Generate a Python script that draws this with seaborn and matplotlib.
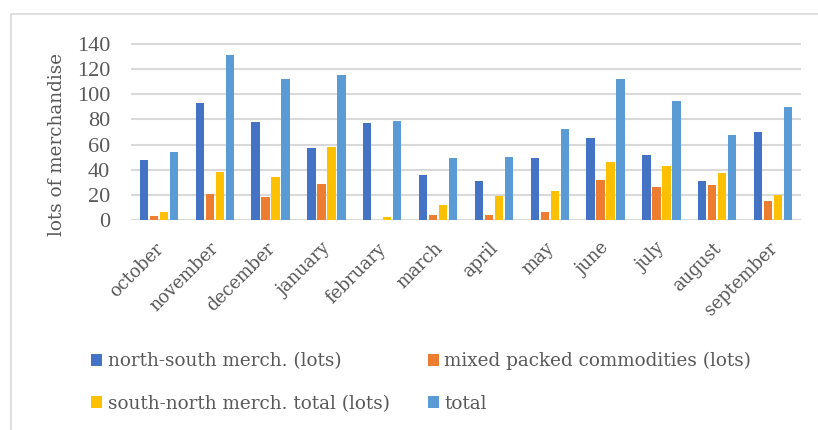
import numpy as np
import pandas as pd
import matplotlib
matplotlib.use("Agg")
import matplotlib.pyplot as plt
import matplotlib.transforms as mtransforms
import seaborn as sns
from matplotlib.patches import Rectangle

months = ["october", "november", "december", "january", "february", "march",
          "april", "may", "june", "july", "august", "september"]
north_south = [48, 93, 78, 57, 77, 36, 31, 49, 65, 52, 31, 70]
mixed_packed = [3, 21, 18, 29, 0, 4, 4, 6, 32, 26, 28, 15]
south_north = [6, 38, 34, 58, 2, 12, 19, 23, 46, 43, 37, 20]
total = [54, 131, 112, 115, 79, 49, 50, 72, 112, 95, 68, 90]

series_names = ["north-south merch. (lots)", "mixed packed commodities (lots)",
                "south-north merch. total (lots)", "total"]
series_colors = ["#4472C4", "#ED7D31", "#FFC000", "#5B9BD5"]
y_ticks = [0, 20, 40, 60, 80, 100, 120, 140]

df = pd.DataFrame({
    "month": months * 4,
    "series": np.repeat(series_names, len(months)),
    "value": north_south + mixed_packed + south_north + total,
})

sns.set_theme(style="white")
plt.rcParams["font.family"] = ["DejaVu Serif"]
text_color = "#595959"
grid_color = "#D9D9D9"

W, H = 818, 430
fig = plt.figure(figsize=(W / 100, H / 100), dpi=100)
fig.patch.set_facecolor("white")

# outer chart-area border (top and left edges visible)
fig.patches.append(Rectangle((11 / W, -0.05), 1.0, 1 - 14 / H + 0.05,
                             transform=fig.transFigure, fill=False,
                             edgecolor=grid_color, linewidth=1.2))

ymax = 142
px_per_unit = 176 / 140
left, right, base = 131, 801, 220
top = base - ymax * px_per_unit
ax = fig.add_axes([left / W, 1 - base / H, (right - left) / W, (base - top) / H])

sns.barplot(data=df, x="month", y="value", hue="series", order=months,
            hue_order=series_names, palette=series_colors, width=0.717,
            gap=0.16, linewidth=0, saturation=1, ax=ax)

ax.set_ylim(0, ymax)
ax.set_xlim(-0.5, len(months) - 0.5)
ax.set_yticks(y_ticks)
ax.set_yticklabels([str(t) for t in y_ticks], family="Liberation Serif", fontsize=16)
ax.yaxis.grid(True, color=grid_color, linewidth=1.5)
ax.set_axisbelow(True)
for s in ax.spines.values():
    s.set_visible(False)
ax.axhline(0, color=grid_color, linewidth=2, zorder=0.5)

ax.tick_params(axis="both", length=0, colors=text_color)
ax.tick_params(axis="y", pad=15)
ax.tick_params(axis="x", pad=14)
ax.set_xticks(range(len(months)))
ax.set_xticklabels(months, fontsize=12.7, rotation=45, ha="right",
                   rotation_mode="anchor")
shift = mtransforms.ScaledTranslation(-0.05, 0, fig.dpi_scale_trans)
for lbl in ax.get_xticklabels():
    lbl.set_transform(lbl.get_transform() + shift)

ax.set_xlabel("")
ax.set_ylabel("lots of merchandise", fontsize=13.2, color=text_color)
ax.yaxis.set_label_coords(-0.097, 0.426)

handles, labels = ax.get_legend_handles_labels()
ax.legend_.remove()
order = [0, 2, 1, 3]
fig.legend([handles[i] for i in order], [labels[i] for i in order],
           loc="upper left", bbox_to_anchor=(91 / W, 1 - 352 / H),
           borderpad=0, borderaxespad=0,
           ncol=2, frameon=False, fontsize=13.2, labelcolor=text_color,
           handlelength=0.6, handleheight=0.62, handletextpad=0.3,
           columnspacing=2.1, labelspacing=1.33)

fig.savefig("out.png", dpi=100)
